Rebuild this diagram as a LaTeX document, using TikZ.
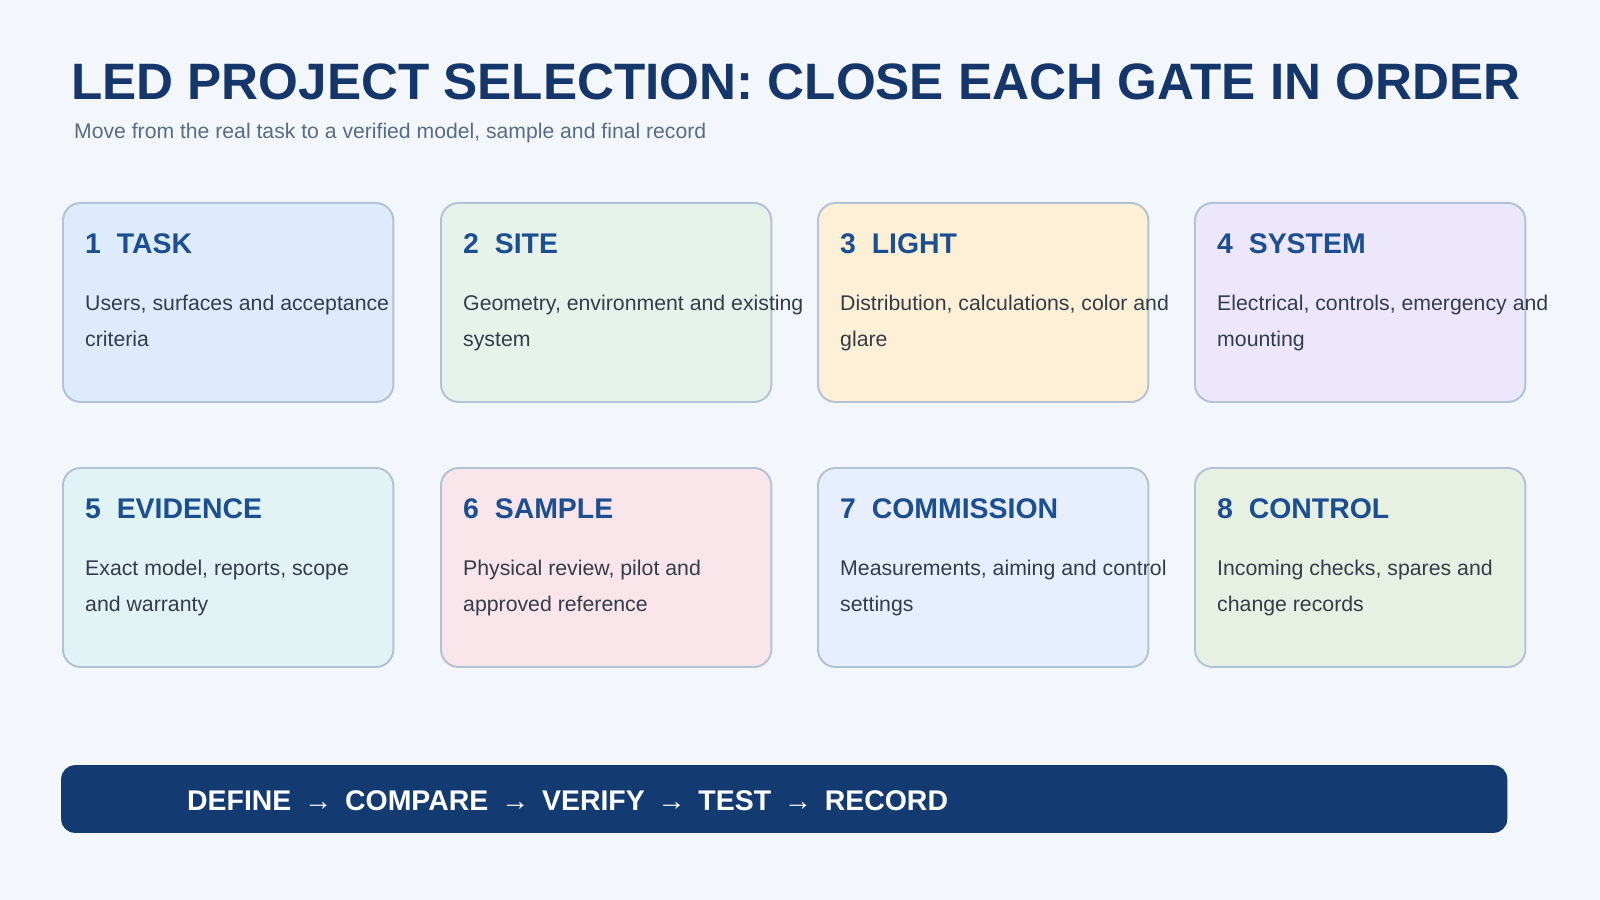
\documentclass[tikz,border=0pt]{standalone}
\usepackage{fontspec}
\setmainfont{Liberation Sans}
\usetikzlibrary{positioning}
\definecolor{bgpage}{HTML}{F3F7FB}
\definecolor{titleblue}{HTML}{14366B}
\definecolor{subgray}{HTML}{5A6B85}
\definecolor{headblue}{HTML}{1B4F91}
\definecolor{bodytext}{HTML}{333D4A}
\definecolor{cardline}{HTML}{B4C2D6}
\definecolor{barblue}{HTML}{143A72}
\definecolor{fillA}{HTML}{DEEBFD}
\definecolor{fillB}{HTML}{E6F2EA}
\definecolor{fillC}{HTML}{FEF0D6}
\definecolor{fillD}{HTML}{EDE7FD}
\definecolor{fillE}{HTML}{E1F3F5}
\definecolor{fillF}{HTML}{F9E5EA}
\definecolor{fillG}{HTML}{E7EEFE}
\definecolor{fillH}{HTML}{E7F1E3}

\begin{document}
\begin{tikzpicture}[
    x=1.02pt, y=-1.02pt,
    card/.style={rectangle, draw=cardline, line width=2pt, rounded corners=18pt, minimum width=337pt, minimum height=203pt, anchor=north west},
    head/.style={anchor=west, inner sep=0pt, font=\fontsize{29}{32}\selectfont\bfseries, text=headblue},
    body/.style={anchor=north west, inner sep=0pt, align=left, font=\fontsize{21.7}{36.7}\selectfont, text=bodytext}
]
\useasboundingbox[fill=bgpage] (0,0) rectangle (1600,900);

% Title
\node[anchor=base west, inner sep=0pt, font=\fontsize{52.2}{60}\selectfont\bfseries, text=titleblue] (title) at (71,100) {LED PROJECT SELECTION: CLOSE EACH GATE IN ORDER};
\node[anchor=base west, inner sep=0pt, font=\fontsize{21.6}{24}\selectfont, text=subgray] (subtitle) at (74,139) {Move from the real task to a verified model, sample and final record};

% Cards
\foreach \i/\x/\y/\col/\name/\lineA/\lineB in {
    1/62/202/fillA/TASK/{Users, surfaces and acceptance}/criteria,
    2/440/202/fillB/SITE/{Geometry, environment and existing}/system,
    3/817/202/fillC/LIGHT/{Distribution, calculations, color and}/glare,
    4/1194/202/fillD/SYSTEM/{Electrical, controls, emergency and}/mounting,
    5/62/467/fillE/EVIDENCE/{Exact model, reports, scope}/and warranty,
    6/440/467/fillF/SAMPLE/{Physical review, pilot and}/approved reference,
    7/817/467/fillG/COMMISSION/{Measurements, aiming and control}/settings,
    8/1194/467/fillH/CONTROL/{Incoming checks, spares and}/change records}{
  \node[card, fill=\col] (card\i) at (\x,\y) {};
  \node[head] (head\i) at (\x+23,\y+42) {\i\ \ \name};
  \node[body] (body\i) at (\x+23,\y+93) {\lineA\\\lineB};
}

% Bottom bar
\node[rectangle, fill=barblue, rounded corners=14pt, minimum width=1475pt, minimum height=69pt, anchor=north west] (bar) at (61,765) {};
\node[anchor=west, inner sep=0pt, text=white, font=\fontsize{29}{32}\selectfont\bfseries] (steps) at (187,801)
  {DEFINE \,\textmd{→}\, COMPARE \,\textmd{→}\, VERIFY \,\textmd{→}\, TEST \,\textmd{→}\, RECORD};

\end{tikzpicture}
\end{document}
